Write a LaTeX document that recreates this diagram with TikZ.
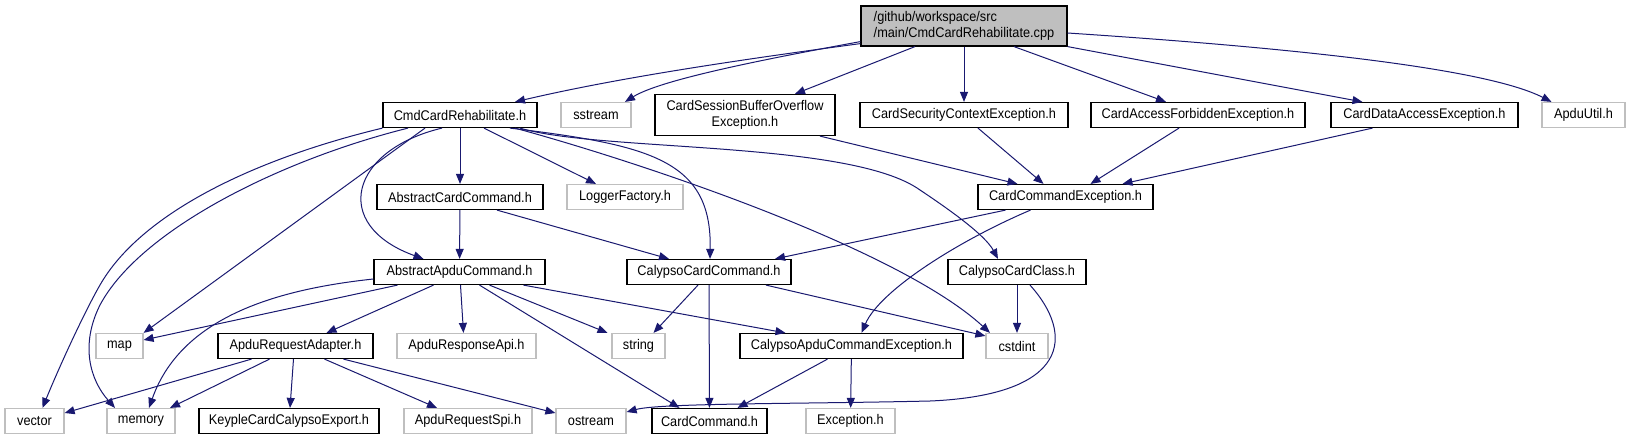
\documentclass[tikz,border=0pt]{standalone}
\usepackage{fontspec}
\setmainfont{Liberation Sans}[FakeStretch=0.91]
\usepackage{tikz}
\usetikzlibrary{arrows.meta, positioning, calc}
\definecolor{edgeblue}{HTML}{191970}
\definecolor{extgray}{HTML}{BFBFBF}

\begin{document}
\begin{tikzpicture}[
  x=1pt, y=-1pt,
  hdr/.style={rectangle, draw=black, line width=1.2pt, minimum height=25pt,
              inner sep=0pt, font=\fontsize{14}{15.5}\selectfont},
  ext/.style={hdr, draw=extgray},
  dep/.style={-{Triangle[length=10pt, width=8pt]}, draw=edgeblue, line width=1pt}
]
  \useasboundingbox[fill=white] (0,0) rectangle (1631,440);

  \node[hdr, fill=extgray, minimum width=206pt, minimum height=40pt, align=left]
        (root) at (964,26) {/github/workspace/src\\/main/CmdCardRehabilitate.cpp};

  \node[hdr, minimum width=154pt] (cmd)      at (460,115)    {CmdCardRehabilitate.h};
  \node[ext, minimum width=70pt]  (sstream)  at (596,115)    {sstream};
  \node[hdr, minimum width=180pt, minimum height=41pt, align=center]
        (overflow) at (745,115) {CardSessionBufferOverflow\\Exception.h};
  \node[hdr, minimum width=208pt] (secctx)   at (964,115)    {CardSecurityContextException.h};
  \node[hdr, minimum width=214pt] (forbid)   at (1198,115)   {CardAccessForbiddenException.h};
  \node[hdr, minimum width=187pt] (dataacc)  at (1424.5,115) {CardDataAccessException.h};
  \node[ext, minimum width=83pt]  (apduutil) at (1583.5,115) {ApduUtil.h};

  \node[hdr, minimum width=166pt] (abscard)  at (460,197)    {AbstractCardCommand.h};
  \node[ext, minimum width=116pt] (logger)   at (625,197)    {LoggerFactory.h};
  \node[hdr, minimum width=175pt] (cmdexc)   at (1065.5,197) {CardCommandException.h};

  \node[hdr, minimum width=171pt] (absapdu)  at (459.5,272)  {AbstractApduCommand.h};
  \node[hdr, minimum width=164pt] (calcmd)   at (709,272)    {CalypsoCardCommand.h};
  \node[hdr, minimum width=138pt] (calclass) at (1017,272)   {CalypsoCardClass.h};

  \node[ext, minimum width=47pt]  (map)      at (119.5,346)  {map};
  \node[hdr, minimum width=155pt] (reqadapt) at (295.5,346)  {ApduRequestAdapter.h};
  \node[ext, minimum width=139pt] (respapi)  at (466.5,346)  {ApduResponseApi.h};
  \node[ext, minimum width=53pt]  (string)   at (638.5,346)  {string};
  \node[hdr, minimum width=223pt] (calapdu)  at (851.5,346)  {CalypsoApduCommandException.h};
  \node[ext, minimum width=62pt]  (cstdint)  at (1017,346)   {cstdint};

  \node[ext, minimum width=59pt]  (vector)   at (34.5,421)   {vector};
  \node[ext, minimum width=68pt]  (memory)   at (141,421)    {memory};
  \node[hdr, minimum width=180pt] (keyple)   at (289,421)    {KeypleCardCalypsoExport.h};
  \node[ext, minimum width=128pt] (reqspi)   at (468,421)    {ApduRequestSpi.h};
  \node[ext, minimum width=70pt]  (ostream)  at (591,421)    {ostream};
  \node[hdr, minimum width=115pt] (cardcmd)  at (709.5,421)  {CardCommand.h};
  \node[ext, minimum width=89pt]  (exception) at (850.5,421) {Exception.h};

  % root file
  \draw[dep] ([yshift=3]root.south west) .. controls (700,65) and (600,82) .. ([xshift=55]cmd.north);
  \draw[dep] ([yshift=5]root.south west) .. controls (760,60) and (660,80) .. ([xshift=29]sstream.north);
  \draw[dep] ([xshift=-49]root.south) -- ([xshift=50]overflow.north);
  \draw[dep] (root) -- (secctx);
  \draw[dep] ([xshift=50]root.south) -- ([xshift=-32]forbid.north);
  \draw[dep] (root.south east) -- ([xshift=-62]dataacc.north);
  \draw[dep] ([yshift=-7]root.east) .. controls (1250,45) and (1480,65) .. ([xshift=-32]apduutil.north);

  \draw[dep] ([xshift=75]overflow.south) -- ([xshift=-48]cmdexc.north);
  \draw[dep] ([xshift=14]secctx.south) -- ([xshift=-22]cmdexc.north);
  \draw[dep] ([xshift=-19]forbid.south) -- ([xshift=25]cmdexc.north);
  \draw[dep] ([xshift=-52]dataacc.south) -- ([xshift=57]cmdexc.north);

  % CmdCardRehabilitate.h
  \draw[dep] (cmd.south west) .. controls (250,160) and (140,215) .. (100,285)
             .. controls (85,311) and (60,365) .. ([xshift=8]vector.north);
  \draw[dep] ([xshift=-52]cmd.south) .. controls (280,160) and (140,230) .. (100,305)
             .. controls (80,345) and (90,380) .. ([xshift=-26]memory.north);
  \draw[dep] ([xshift=-35]cmd.south) -- (map.north east);
  \draw[dep] ([xshift=-18]cmd.south) .. controls (350,150) and (330,225) .. ([xshift=-36]absapdu.north);
  \draw[dep] (cmd) -- (abscard);
  \draw[dep] ([xshift=24]cmd.south) -- ([xshift=-29]logger.north);
  \draw[dep] ([xshift=50]cmd.south) .. controls (650,145) and (712,160) .. ([xshift=1]calcmd.north);
  \draw[dep] ([xshift=55]cmd.south) .. controls (650,165) and (900,250) .. ([xshift=-27]cstdint.north);
  \draw[dep] ([xshift=60]cmd.south) .. controls (600,152) and (850,140) .. (920,190)
             .. controls (950,210) and (985,235) .. ([xshift=-19]calclass.north);

  \draw[dep] (abscard) -- (absapdu);
  \draw[dep] ([xshift=37]abscard.south) -- ([xshift=-40]calcmd.north);

  \draw[dep] ([xshift=-60]cmdexc.south) -- ([xshift=66]calcmd.north);
  \draw[dep] ([xshift=-35]cmdexc.south) .. controls (960,240) and (880,290) .. ([xshift=10]calapdu.north);

  % AbstractApduCommand.h
  \draw[dep] ([yshift=-7]absapdu.west) .. controls (270,290) and (180,320) .. ([xshift=8]memory.north);
  \draw[dep] ([xshift=-62]absapdu.south) -- ([yshift=6]map.east);
  \draw[dep] ([xshift=-26]absapdu.south) -- ([xshift=31]reqadapt.north);
  \draw[dep] ([xshift=1]absapdu.south) -- ([xshift=-3]respapi.north);
  \draw[dep] ([xshift=30]absapdu.south) -- ([xshift=-31]string.north);
  \draw[dep] ([xshift=64]absapdu.south) -- ([xshift=-66]calapdu.north);
  \draw[dep] ([xshift=20]absapdu.south) -- ([xshift=-30]cardcmd.north);

  \draw[dep] ([xshift=-11]calcmd.south) -- ([xshift=15]string.north);
  \draw[dep] (calcmd) -- (cardcmd);
  \draw[dep] ([xshift=57]calcmd.south) -- ([yshift=-3]cstdint.north west);

  \draw[dep] (calclass) -- (cstdint);
  \draw[dep] ([xshift=13]calclass.south) .. controls (1075,335) and (1070,395) .. (930,401)
             .. controls (800,404) and (660,403) .. ([yshift=9]ostream.east);

  \draw[dep] ([xshift=-24]calapdu.south) -- ([xshift=28]cardcmd.north);
  \draw[dep] (calapdu) -- (exception);

  % ApduRequestAdapter.h
  \draw[dep] ([xshift=-44]reqadapt.south) -- ([yshift=8]vector.east);
  \draw[dep] ([xshift=-26]reqadapt.south) -- ([xshift=29]memory.north);
  \draw[dep] ([xshift=-2]reqadapt.south) -- ([xshift=1]keyple.north);
  \draw[dep] ([xshift=29]reqadapt.south) -- ([xshift=-31]reqspi.north);
  \draw[dep] ([xshift=48]reqadapt.south) -- ([yshift=8]ostream.west);
\end{tikzpicture}
\end{document}
